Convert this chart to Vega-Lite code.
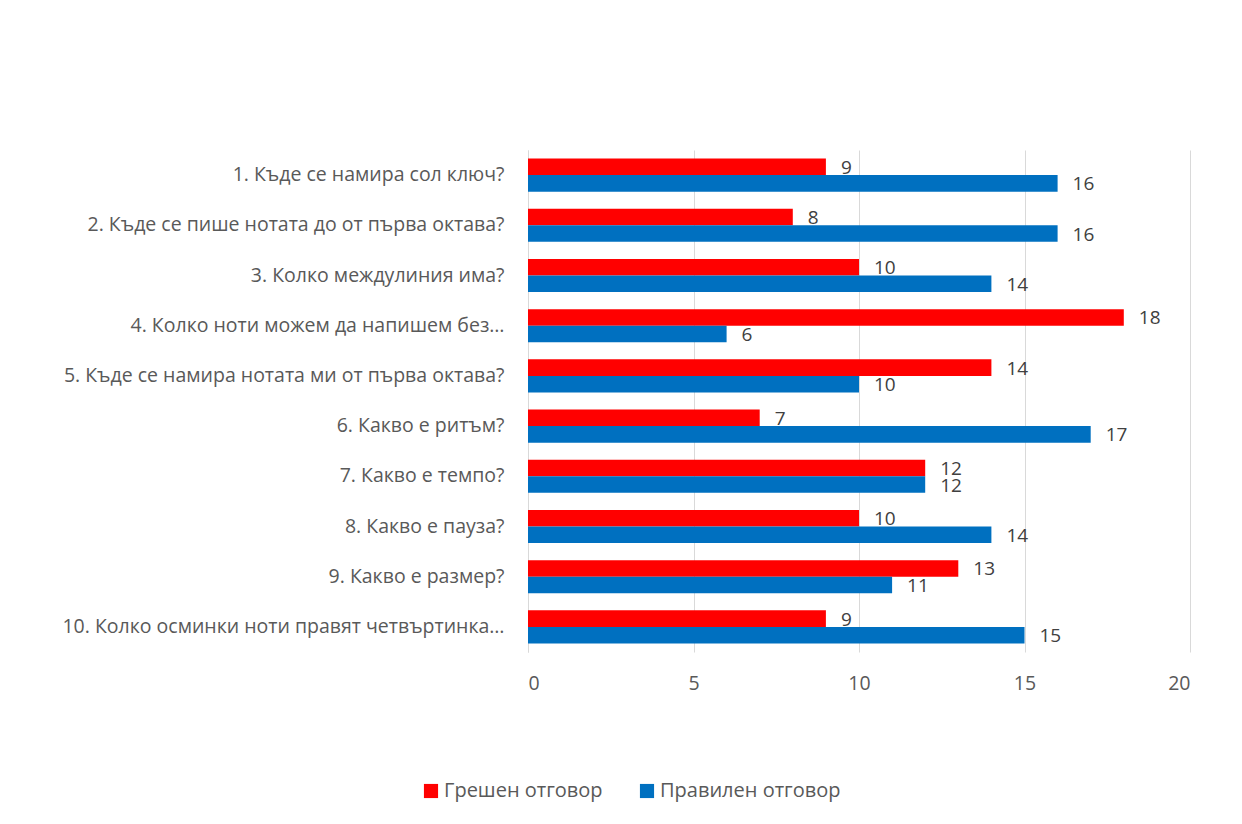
{
  "$schema": "https://vega.github.io/schema/vega-lite/v6.json",
  "width": 662,
  "height": 502,
  "autosize": {"type": "none"},
  "padding": {"left": 528, "top": 150, "right": 52, "bottom": 172},
  "background": "white",
  "config": {
    "font": "Open Sans",
    "view": {"stroke": null},
    "axis": {"labelFont": "Open Sans", "labelColor": "#595959", "labelFontSize": 19.5}
  },
  "data": {
    "values": [
      {"q": "1. Къде се намира сол ключ?", "s": "Грешен отговор", "v": 9},
      {"q": "1. Къде се намира сол ключ?", "s": "Правилен отговор", "v": 16},
      {"q": "2. Къде се пише нотата до от първа октава?", "s": "Грешен отговор", "v": 8},
      {"q": "2. Къде се пише нотата до от първа октава?", "s": "Правилен отговор", "v": 16},
      {"q": "3. Колко междулиния има?", "s": "Грешен отговор", "v": 10},
      {"q": "3. Колко междулиния има?", "s": "Правилен отговор", "v": 14},
      {"q": "4. Колко ноти можем да напишем без…", "s": "Грешен отговор", "v": 18},
      {"q": "4. Колко ноти можем да напишем без…", "s": "Правилен отговор", "v": 6},
      {"q": "5. Къде се намира нотата ми от първа октава?", "s": "Грешен отговор", "v": 14},
      {"q": "5. Къде се намира нотата ми от първа октава?", "s": "Правилен отговор", "v": 10},
      {"q": "6. Какво е ритъм?", "s": "Грешен отговор", "v": 7},
      {"q": "6. Какво е ритъм?", "s": "Правилен отговор", "v": 17},
      {"q": "7. Какво е темпо?", "s": "Грешен отговор", "v": 12},
      {"q": "7. Какво е темпо?", "s": "Правилен отговор", "v": 12},
      {"q": "8. Какво е пауза?", "s": "Грешен отговор", "v": 10},
      {"q": "8. Какво е пауза?", "s": "Правилен отговор", "v": 14},
      {"q": "9. Какво е размер?", "s": "Грешен отговор", "v": 13},
      {"q": "9. Какво е размер?", "s": "Правилен отговор", "v": 11},
      {"q": "10. Колко осминки ноти правят четвъртинка…", "s": "Грешен отговор", "v": 9},
      {"q": "10. Колко осминки ноти правят четвъртинка…", "s": "Правилен отговор", "v": 15}
    ]
  },
  "encoding": {
    "y": {
      "field": "q", "type": "nominal", "sort": null, "title": null,
      "scale": {"paddingInner": 0.34, "paddingOuter": 0.17},
      "axis": {"ticks": false, "domain": true, "domainColor": "#d9d9d9", "labelPadding": 24, "labelLimit": 600, "grid": false}
    },
    "yOffset": {"field": "s", "type": "nominal", "sort": ["Грешен отговор", "Правилен отговор"]},
    "x": {
      "field": "v", "type": "quantitative", "title": null,
      "scale": {"domain": [0, 20]},
      "axis": {"values": [0, 5, 10, 15, 20], "ticks": false, "domain": false, "gridColor": "#d9d9d9", "labelPadding": 22}
    }
  },
  "layer": [
    {
      "mark": {"type": "bar"},
      "encoding": {
        "color": {
          "field": "s", "type": "nominal", "title": null,
          "scale": {"domain": ["Грешен отговор", "Правилен отговор"], "range": ["#ff0000", "#0070c0"]},
          "legend": {
            "orient": "none", "direction": "horizontal", "legendX": -107, "legendY": 631,
            "symbolType": "square", "symbolSize": 200, "symbolStrokeWidth": 0,
            "labelFontSize": 20, "labelColor": "#595959", "labelFont": "Open Sans", "labelLimit": 400, "columnPadding": 34, "labelOffset": 3
          }
        }
      }
    },
    {
      "mark": {"type": "text", "align": "left", "baseline": "middle", "dx": 15, "dy": 1, "fontSize": 19, "color": "#404040", "font": "Open Sans"},
      "encoding": {"text": {"field": "v", "type": "quantitative"}}
    }
  ]
}
